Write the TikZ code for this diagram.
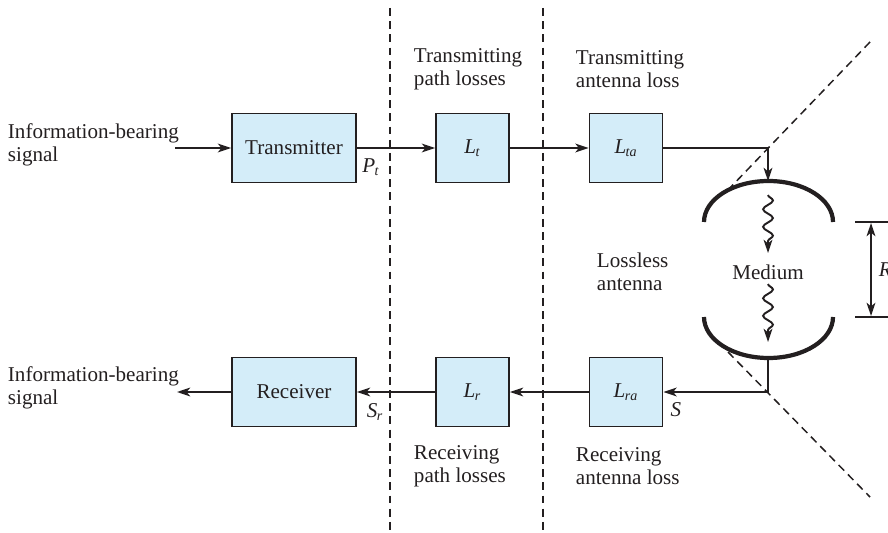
\documentclass[tikz,border=0pt]{standalone}
\usepackage{fontspec}
\setmainfont{Liberation Serif}
\usetikzlibrary{arrows.meta,decorations.pathmorphing}
\definecolor{boxfill}{RGB}{212,237,249}
\definecolor{ink}{RGB}{35,31,32}
\newcommand{\lsym}[2]{\textit{#1}\textsubscript{\kern-0.04em\textit{#2}}}

\begin{document}
\begin{tikzpicture}[x=0.02cm,y=-0.02cm,
  font=\fontsize{12}{13}\selectfont,
  >={Stealth[length=7.5pt,width=5pt,inset=2pt]},
  color=ink,line width=1.1pt,
  blk/.style={draw=ink,fill=boxfill,line width=1.1pt,minimum height=1.38cm,inner sep=0pt},
  lbox/.style={blk,minimum width=1.46cm},
  txt/.style={anchor=west,align=left,inner sep=0pt},
  cut/.style={line width=0.85pt,dash pattern=on 4.5pt off 3pt},
  ant/.style={line width=2.4pt},
  wave/.style={->,decorate,decoration={snake,amplitude=2.8pt,segment length=10pt,post length=4pt}}]
\useasboundingbox (0,0) rectangle (888,533);
% boxes
\node[blk,minimum width=2.48cm] (tx) at (294,148) {Transmitter};
\node[lbox] (lt) at (472.5,148) {\lsym{L}{t}};
\node[lbox] (lta) at (626,148) {\lsym{L}{ta}};
\node[blk,minimum width=2.48cm] (rx) at (294,392) {Receiver};
\node[lbox] (lr) at (472.5,392) {\lsym{L}{r}};
\node[lbox] (lra) at (626,392) {\lsym{L}{ra}};
% texts
\node[txt] (inTx) at (7,145) {Information-bearing\\signal};
\node[txt] (outRx) at (7,388) {Information-bearing\\signal};
\node[txt] (tpl) at (413,69) {Transmitting\\path losses};
\node[txt] (tal) at (575,69) {Transmitting\\antenna loss};
\node[txt] (rpl) at (413,466) {Receiving\\path losses};
\node[txt] (ral) at (575,466) {Receiving\\antenna loss};
\node[txt] (lossless) at (596,272) {Lossless\\antenna};
\node (medium) at (768,272) {Medium};
\node (pt) at (371,167) {\lsym{P}{t}};
\node (sr) at (375,412) {\lsym{S}{r}};
\node (s) at (676,410) {\textit{S}};
\node[txt] (rr) at (878,270) {\textit{R}};
% coordinates
\coordinate (inA) at (175,148);
\coordinate (outB) at (177,392);
\coordinate (tc) at (768,148);
\coordinate (ttop) at (768,181);
\coordinate (bbot) at (768,359);
\coordinate (bc) at (768,392);
\coordinate (w1a) at (768,195);
\coordinate (w1b) at (768,253);
\coordinate (w2a) at (768,284);
\coordinate (w2b) at (768,342);
% connectors
\draw[->] (inA) -- (tx);
\draw[->] (tx) -- (lt);
\draw[->] (lt) -- (lta);
\draw[->] (lta.east) -- (tc) -- (ttop);
\draw[->] (bbot) -- (bc) -- (lra.east);
\draw[->] (lra) -- (lr);
\draw[->] (lr) -- (rx);
\draw[->] (rx.west) -- (outB);
% antennas
\draw[ant] (704,222) arc[start angle=180,end angle=360,x radius=64.5,y radius=41];
\draw[ant] (704,317) arc[start angle=180,end angle=0,x radius=64.5,y radius=41];
\draw[wave] (w1a) -- (w1b);
\draw[wave] (w2a) -- (w2b);
% boundaries
\draw[cut] (390,8) -- (390,530);
\draw[cut] (543,8) -- (543,530);
\draw[cut] (870,42) -- (727,191);
\draw[cut] (728,352) -- (870,497);
% distance
\draw (855,222) -- (895,222);
\draw (855,317) -- (895,317);
\draw[<->] (871,223) -- (871,316);
\end{tikzpicture}
\end{document}
